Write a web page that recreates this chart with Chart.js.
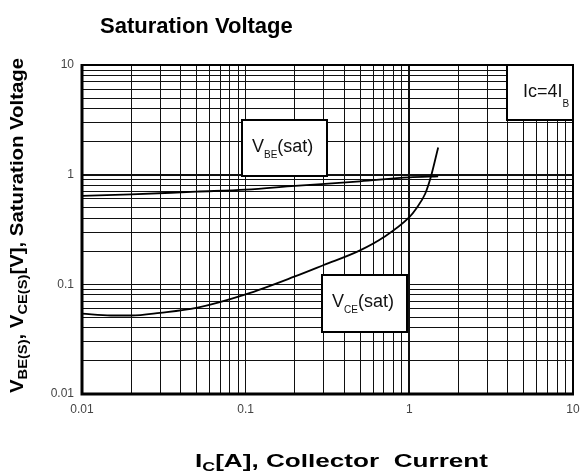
<!DOCTYPE html>
<html>
<head>
<meta charset="utf-8">
<script src="https://cdn.jsdelivr.net/npm/chart.js@4.4.1/dist/chart.umd.min.js"></script>
<style>
  html, body { margin: 0; padding: 0; background: #fff; }
  canvas { display: block; }
</style>
</head>
<body>
<canvas id="chart" width="582" height="475"></canvas>
<script>
// Collector current (A) and saturation voltages (V)
const vbeCurrent = [0.01, 0.02, 0.05, 0.1, 0.2, 0.5, 1, 1.5];
const vbeVoltage = [0.64, 0.66, 0.70, 0.73, 0.79, 0.87, 0.945, 0.965];

const vceCurrent = [0.01, 0.015, 0.02, 0.03, 0.05, 0.1, 0.2, 0.3, 0.5, 0.7, 1, 1.1, 1.25, 1.35, 1.5];
const vceVoltage = [0.054, 0.052, 0.052, 0.055, 0.061, 0.081, 0.118, 0.15, 0.204, 0.27, 0.41, 0.49, 0.67, 0.94, 1.77];

// log grid (1..9 per decade) and labelled decades
const gridValues = [
  0.01, 0.02, 0.03, 0.04, 0.05, 0.06, 0.07, 0.08, 0.09,
  0.1, 0.2, 0.3, 0.4, 0.5, 0.6, 0.7, 0.8, 0.9,
  1, 2, 3, 4, 5, 6, 7, 8, 9, 10
];
const decadeValues = [0.01, 0.1, 1, 10];
const xTickLabels = ['0.01', '0.1', '1', '10'];
const yTickLabels = ['0.01', '0.1', '1', '10'];

const FONT = '"Liberation Sans", Arial, sans-serif';

function labelFor(labels) {
  return (val) => {
    const i = decadeValues.findIndex((d) => Math.abs(d - val) / d < 1e-6);
    return i >= 0 ? labels[i] : '';
  };
}

function setGridTicks(scale) {
  scale.ticks = gridValues.map((v) => ({ value: v }));
}

// draws a run of text pieces (with subscripts), stretched to a given length
function drawRun(ctx, parts, length) {
  let total = 0;
  parts.forEach((p) => {
    ctx.font = p.font;
    total += ctx.measureText(p.text).width;
  });
  const s = length ? length / total : 1;
  ctx.scale(s, 1);
  let x = 0;
  parts.forEach((p) => {
    ctx.font = p.font;
    ctx.fillText(p.text, x, p.dy || 0);
    x += ctx.measureText(p.text).width;
  });
}

function labelBox(ctx, box, parts) {
  ctx.save();
  ctx.fillStyle = '#fff';
  ctx.fillRect(box.x, box.y, box.w, box.h);
  ctx.lineWidth = 2;
  ctx.strokeStyle = '#000';
  ctx.strokeRect(box.x, box.y, box.w, box.h);
  ctx.fillStyle = '#111';
  ctx.textBaseline = 'alphabetic';
  ctx.translate(box.tx, box.ty);
  drawRun(ctx, parts);
  ctx.restore();
}

const decor = {
  id: 'decor',
  afterDatasetsDraw(chart) {
    const { ctx, chartArea: a } = chart;

    // plot frame
    ctx.save();
    ctx.strokeStyle = '#000';
    ctx.lineWidth = 2;
    ctx.strokeRect(a.left, a.top, a.right - a.left, a.bottom - a.top);
    ctx.lineWidth = 3;
    ctx.beginPath();
    ctx.moveTo(a.left, a.top - 1);
    ctx.lineTo(a.left, a.bottom);
    ctx.lineTo(a.right + 1, a.bottom);
    ctx.stroke();
    ctx.restore();

    const reg = '18px ' + FONT;
    const sub = '10px ' + FONT;
    labelBox(ctx, { x: 242, y: 120, w: 85, h: 56, tx: 252, ty: 152 },
      [{ text: 'V', font: reg }, { text: 'BE', font: sub, dy: 6 }, { text: '(sat)', font: reg }]);
    labelBox(ctx, { x: 322, y: 275, w: 85, h: 57, tx: 332, ty: 307 },
      [{ text: 'V', font: reg }, { text: 'CE', font: sub, dy: 6 }, { text: '(sat)', font: reg }]);
    labelBox(ctx, { x: 507, y: a.top, w: a.right - 507, h: 55, tx: 523, ty: 97 },
      [{ text: 'Ic=4I', font: reg }, { text: 'B', font: sub, dy: 10 }]);
  },
  afterDraw(chart) {
    const { ctx } = chart;
    const bold = 'bold 19px ' + FONT;
    const boldSub = 'bold 13px ' + FONT;
    ctx.save();
    ctx.fillStyle = '#000';
    ctx.textBaseline = 'alphabetic';

    // title
    ctx.font = 'bold 22px ' + FONT;
    ctx.fillText('Saturation Voltage', 100, 33);

    // x axis title
    ctx.save();
    ctx.translate(195, 467);
    drawRun(ctx, [
      { text: 'I', font: bold },
      { text: 'C', font: boldSub, dy: 4 },
      { text: '[A], Collector  Current', font: bold }
    ], 293);
    ctx.restore();

    // y axis title
    ctx.save();
    ctx.translate(23, 393);
    ctx.rotate(-Math.PI / 2);
    drawRun(ctx, [
      { text: 'V', font: 'bold 18px ' + FONT },
      { text: 'BE(S)', font: boldSub, dy: 4 },
      { text: ', V', font: 'bold 18px ' + FONT },
      { text: 'CE(S)', font: boldSub, dy: 4 },
      { text: '[V], Saturation Voltage', font: 'bold 18px ' + FONT }
    ], 335);
    ctx.restore();

    ctx.restore();
  }
};

const gridStyle = {
  color: '#111',
  lineWidth: (c) => (c.tick && c.tick.value === 1 ? 2 : 1),
  drawTicks: false
};

new Chart(document.getElementById('chart'), {
  type: 'line',
  data: {
    datasets: [
      {
        label: 'VBE(sat)',
        data: vbeCurrent.map((x, i) => ({ x, y: vbeVoltage[i] })),
        borderColor: '#000',
        borderWidth: 1.8,
        pointRadius: 0,
        cubicInterpolationMode: 'monotone'
      },
      {
        label: 'VCE(sat)',
        data: vceCurrent.map((x, i) => ({ x, y: vceVoltage[i] })),
        borderColor: '#000',
        borderWidth: 1.8,
        pointRadius: 0,
        cubicInterpolationMode: 'monotone'
      }
    ]
  },
  options: {
    responsive: false,
    animation: false,
    devicePixelRatio: 1,
    layout: { padding: { left: 0, top: 65, right: 9, bottom: 0 } },
    plugins: {
      legend: { display: false },
      tooltip: { enabled: false }
    },
    scales: {
      x: {
        type: 'logarithmic',
        min: 0.01,
        max: 10,
        afterBuildTicks: setGridTicks,
        afterFit: (s) => { s.height = 81; s.paddingLeft = 0; s.paddingRight = 0; },
        grid: gridStyle,
        border: { display: false },
        ticks: {
          autoSkip: false,
          maxRotation: 0,
          padding: 8,
          color: '#444',
          font: { family: FONT, size: 12 },
          callback: labelFor(xTickLabels)
        }
      },
      y: {
        type: 'logarithmic',
        min: 0.01,
        max: 10,
        afterBuildTicks: setGridTicks,
        afterFit: (s) => { s.width = 82; s.paddingTop = 0; s.paddingBottom = 0; },
        grid: gridStyle,
        border: { display: false },
        ticks: {
          autoSkip: false,
          padding: 8,
          color: '#444',
          font: { family: FONT, size: 12 },
          callback: labelFor(yTickLabels)
        }
      }
    }
  },
  plugins: [decor]
});
</script>
</body>
</html>
